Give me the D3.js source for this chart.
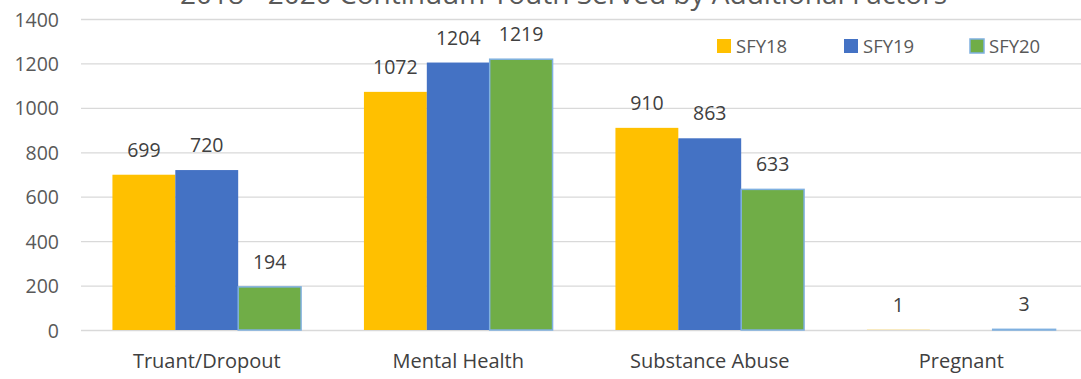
<!DOCTYPE html>
<html>
<head>
<meta charset="utf-8">
<script src="https://cdn.jsdelivr.net/npm/d3@7"></script>
<style>
  html, body { margin: 0; padding: 0; background: #fff; }
  svg { display: block; font-family: "Open Sans", "Liberation Sans", sans-serif; }
</style>
</head>
<body>
<svg id="chart" width="1081" height="379"></svg>
<script>
// Youth served, by additional factor and state fiscal year
const categories = ["Truant/Dropout", "Mental Health", "Substance Abuse", "Pregnant"];
const seriesNames = ["SFY18", "SFY19", "SFY20"];
const sfy18 = [699, 1072, 910, 1];
const sfy19 = [720, 1204, 863, null];
const sfy20 = [194, 1219, 633, 3];
const yTicks = [0, 200, 400, 600, 800, 1000, 1200, 1400];
const titleText = "2018 - 2020 Continuum Youth Served by Additional Factors";

const seriesValues = [sfy18, sfy19, sfy20];
const colors = ["#FFC000", "#4472C4", "#70AD47"];
const strokes = [null, null, "#7FB0E0"];

const svg = d3.select("#chart");
const plot = { left: 81, right: 1087, top: 19, bottom: 330 };

const x0 = d3.scaleBand().domain(categories).range([plot.left, plot.right]).padding(0);
const x1 = d3.scaleBand().domain(seriesNames).range([0, x0.bandwidth()])
  .paddingInner(0).paddingOuter(0.5);
const y = d3.scaleLinear().domain([0, 1400]).range([plot.bottom, plot.top]);

// Title (runs off the top edge)
svg.append("text")
  .attr("x", 180).attr("y", 4)
  .attr("textLength", 767).attr("lengthAdjust", "spacingAndGlyphs")
  .attr("font-size", 27).attr("fill", "#595959")
  .text(titleText);

// Horizontal gridlines and value axis labels
const yAxis = d3.axisLeft(y).tickValues(yTicks).tickFormat(d3.format("d"))
  .tickSize(-(plot.right - plot.left)).tickPadding(22);
const gy = svg.append("g").attr("transform", `translate(${plot.left},0)`).call(yAxis);
gy.select(".domain").remove();
gy.selectAll(".tick line").attr("stroke", "#D9D9D9").attr("stroke-width", 1.3);
gy.selectAll(".tick text")
  .attr("font-size", 19.5).attr("fill", "#595959")
  .attr("font-family", "'Open Sans', 'Liberation Sans', sans-serif")
  .attr("dy", "0.36em");

// Category axis labels
const xAxis = d3.axisBottom(x0).tickSize(0).tickPadding(0);
const gx = svg.append("g").attr("transform", `translate(0,${plot.bottom})`).call(xAxis);
gx.select(".domain").remove();
gx.selectAll(".tick text")
  .attr("font-size", 20).attr("fill", "#404040")
  .attr("font-family", "'Open Sans', 'Liberation Sans', sans-serif")
  .attr("dy", 0).attr("y", 38);

// Bars
const rows = categories.map((c, i) => ({
  category: c,
  values: seriesNames.map((s, j) => ({ series: s, idx: j, value: seriesValues[j][i] }))
}));

const groups = svg.append("g").selectAll("g")
  .data(rows).join("g")
  .attr("transform", d => `translate(${x0(d.category)},0)`);

groups.selectAll("rect")
  .data(d => d.values.filter(v => v.value !== null))
  .join("rect")
  .attr("x", d => x1(d.series))
  .attr("y", d => y(d.value))
  .attr("width", x1.bandwidth())
  .attr("height", d => y(0) - y(d.value))
  .attr("fill", d => colors[d.idx])
  .attr("stroke", d => strokes[d.idx] || "none")
  .attr("stroke-width", 1.5);

// Value labels
groups.selectAll("text.val")
  .data(d => d.values.filter(v => v.value !== null))
  .join("text")
  .attr("class", "val")
  .attr("x", d => x1(d.series) + x1.bandwidth() / 2)
  .attr("y", d => y(d.value) - 18)
  .attr("text-anchor", "middle")
  .attr("font-size", 19.5).attr("fill", "#404040")
  .text(d => d.value);

// Legend
const legendX = [717, 844, 970];
const legend = svg.append("g").selectAll("g")
  .data(seriesNames).join("g")
  .attr("transform", (d, i) => `translate(${legendX[i]},39)`);
legend.append("rect")
  .attr("width", 14).attr("height", 14)
  .attr("fill", (d, i) => colors[i])
  .attr("stroke", (d, i) => strokes[i] || "none")
  .attr("stroke-width", 1.5);
legend.append("text")
  .attr("x", 19).attr("y", 14)
  .attr("font-size", 18.5).attr("fill", "#595959")
  .text(d => d);
</script>
</body>
</html>
